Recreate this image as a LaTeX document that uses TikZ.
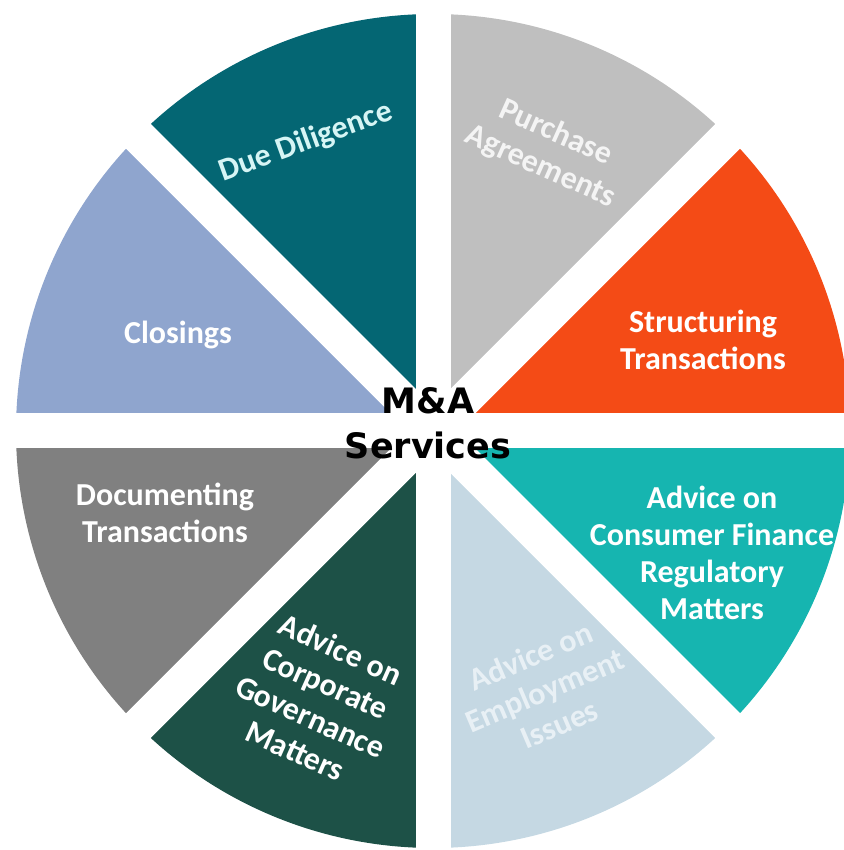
\documentclass[tikz,border=0pt]{standalone}
\usepackage{fontspec}
\setsansfont{Carlito}
\newfontfamily\ctrfont{DejaVu Sans}
\usepackage{tikz}
\usetikzlibrary{positioning}

\definecolor{dilig}{RGB}{4,102,115}
\definecolor{purch}{RGB}{191,191,191}
\definecolor{struct}{RGB}{244,75,22}
\definecolor{consum}{RGB}{22,181,176}
\definecolor{employ}{RGB}{197,216,227}
\definecolor{govern}{RGB}{29,81,71}
\definecolor{docum}{RGB}{128,128,128}
\definecolor{closing}{RGB}{143,165,206}
\definecolor{diltxt}{RGB}{214,245,245}
\definecolor{purtxt}{RGB}{244,244,244}
\definecolor{emptxt}{RGB}{232,240,245}

\tikzset{
	band/.style={draw=white, line width=17.5pt},
	lbl/.style={text=white, align=center, font=\sffamily\bfseries\fontsize{16}{18.5}\selectfont}
}

\begin{document}
\begin{tikzpicture}[x=0.5pt, y=0.5pt]

	\useasboundingbox (0,0) rectangle (844,850);
	\clip (0,0) rectangle (844,850);
	\coordinate (ctr) at (433,419);

	% wedges
	\fill[struct]  (ctr) -- ++(0:417)   arc[start angle=0,   end angle=45,  radius=417] -- cycle;
	\fill[purch]   (ctr) -- ++(45:417)  arc[start angle=45,  end angle=90,  radius=417] -- cycle;
	\fill[dilig]   (ctr) -- ++(90:417)  arc[start angle=90,  end angle=135, radius=417] -- cycle;
	\fill[closing] (ctr) -- ++(135:417) arc[start angle=135, end angle=180, radius=417] -- cycle;
	\fill[docum]   (ctr) -- ++(180:417) arc[start angle=180, end angle=225, radius=417] -- cycle;
	\fill[govern]  (ctr) -- ++(225:417) arc[start angle=225, end angle=270, radius=417] -- cycle;
	\fill[employ]  (ctr) -- ++(270:417) arc[start angle=270, end angle=315, radius=417] -- cycle;
	\fill[consum]  (ctr) -- ++(315:417) arc[start angle=315, end angle=360, radius=417] -- cycle;

	% white gaps
	\draw[band] (ctr) ++(0:450)   -- ++(180:900);
	\draw[band] (ctr) ++(45:450)  -- ++(225:900);
	\draw[band] (ctr) ++(90:450)  -- ++(270:900);
	\draw[band] (ctr) ++(135:450) -- ++(315:900);

	\node[lbl, rotate=20, text=diltxt] (dilig)   at (306,708) {Due Diligence};
	\node[lbl, rotate=-24, text=purtxt] (purch)  at (548,700) {Purchase\\Agreements};
	\node[lbl] (closing) at (178,515) {Closings};
	\node[lbl] (struct)  at (703,510) {Structuring\\Transactions};
	\node[lbl] (docum)   at (165,337) {Documenting\\Transactions};
	\node[lbl] (consum)  at (712,297) {Advice on\\Consumer Finance\\Regulatory\\Matters};
	\node[lbl, rotate=-24] (govern) at (318,150) {Advice on\\Corporate\\Governance\\Matters};
	\node[lbl, rotate=23, text=emptxt] (employ) at (545,160) {Advice on\\Employment\\Issues};

	\node[align=center, font=\ctrfont\bfseries\fontsize{17.5}{22.5}\selectfont] (ma) at (428,427) {M\&A\\Services};

\end{tikzpicture}
\end{document}
